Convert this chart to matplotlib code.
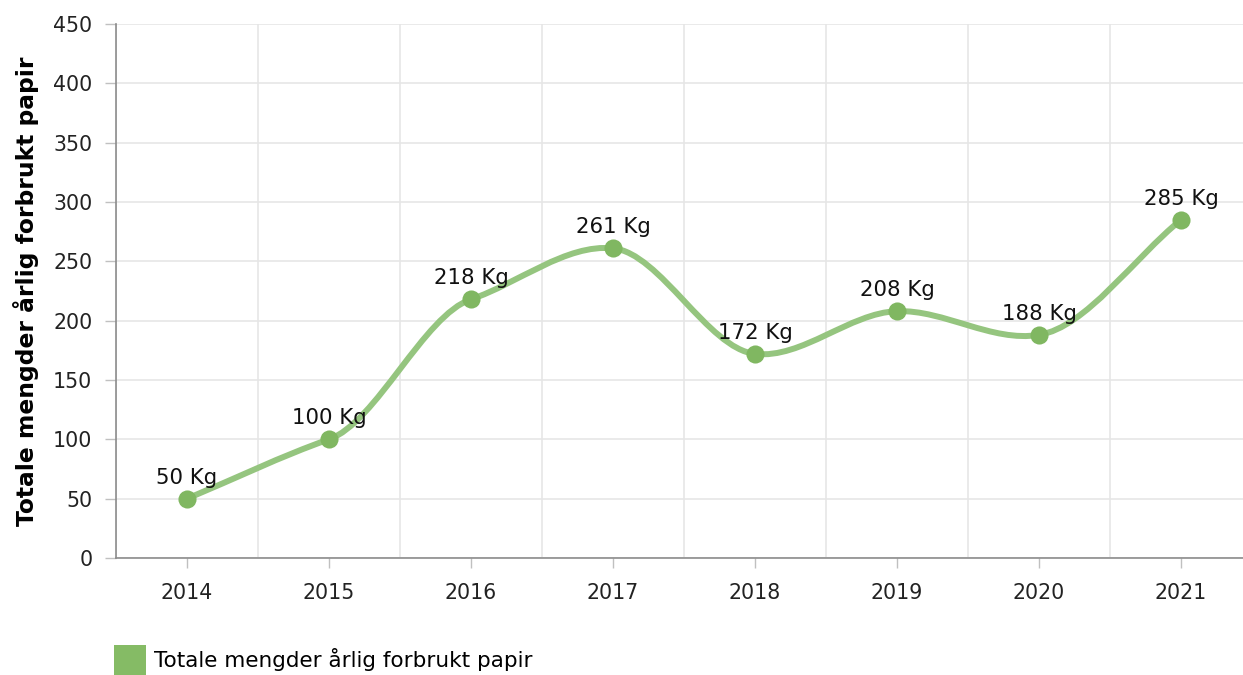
import numpy as np
import matplotlib.pyplot as plt
from matplotlib.path import Path
from matplotlib.patches import PathPatch, Patch

# data
years = ["2014", "2015", "2016", "2017", "2018", "2019", "2020", "2021"]
paper_kg = [50, 100, 218, 261, 172, 208, 188, 285]
series_name = "Totale mengder årlig forbrukt papir"
y_label = "Totale mengder årlig forbrukt papir"

line_col = "#95c57f"
dot_col = "#80b761"

plt.rcParams['font.family'] = ['DejaVu Sans']


def smooth_path(xs, ys, k=0.25):
    # cardinal-style cubic through the points, secant slope at the ends
    xs = np.asarray(xs, float)
    ys = np.asarray(ys, float)
    n = len(xs)
    m = np.zeros(n)
    m[0] = (ys[1] - ys[0]) / (xs[1] - xs[0])
    m[-1] = (ys[-1] - ys[-2]) / (xs[-1] - xs[-2])
    for i in range(1, n - 1):
        m[i] = k * (ys[i + 1] - ys[i - 1]) / (xs[i + 1] - xs[i - 1]) * 2
    verts = [(xs[0], ys[0])]
    codes = [Path.MOVETO]
    for i in range(n - 1):
        h = xs[i + 1] - xs[i]
        verts += [(xs[i] + h / 3, ys[i] + m[i] * h / 3),
                  (xs[i + 1] - h / 3, ys[i + 1] - m[i + 1] * h / 3),
                  (xs[i + 1], ys[i + 1])]
        codes += [Path.CURVE4] * 3
    return Path(verts, codes)


fig = plt.figure(figsize=(12.43, 6.75), dpi=100)
ax = fig.add_axes([116 / 1243, 1 - 558 / 675, (1252 - 116) / 1243, (558 - 24) / 675])

x = np.arange(len(years))
ax.set_xlim(-0.5, len(years) - 0.5)
ax.set_ylim(0, 450)
ax.set_yticks(np.arange(0, 451, 50))
ax.set_xticks(x)
ax.set_xticklabels(years)
ax.set_xticks(np.arange(-0.5, len(years), 1), minor=True)

ax.grid(axis='y', color='#e6e6e6', linewidth=1.2)
ax.grid(axis='x', which='minor', color='#e6e6e6', linewidth=1.2)
ax.set_axisbelow(True)
for s in ['top', 'right']:
    ax.spines[s].set_visible(False)
for s in ['left', 'bottom']:
    ax.spines[s].set_color('#8c8c8c')
    ax.spines[s].set_linewidth(1.2)

ax.tick_params(axis='x', which='major', length=7, width=1, color='#c0c0c0',
               pad=11, labelsize=14.8, labelcolor='#222222')
ax.tick_params(axis='x', which='minor', length=0)
ax.tick_params(axis='y', length=8, width=1, color='#c0c0c0', pad=9,
               labelsize=14.8, labelcolor='#222222')

ax.set_ylabel(y_label, fontsize=16.8, fontweight='bold', labelpad=10)

path = smooth_path(x, paper_kg)
ax.add_patch(PathPatch(path, facecolor='none', edgecolor=line_col, lw=4.3,
                       capstyle='round', joinstyle='round', zorder=3))
ax.scatter(x, paper_kg, s=170, color=dot_col, zorder=4, linewidths=0)

for xi, v in zip(x, paper_kg):
    ax.annotate(f"{v} Kg", (xi, v), xytext=(0, 8), textcoords='offset points',
                ha='center', va='bottom', fontsize=15.3, color='#111111', zorder=5)

handle = Patch(facecolor='#85bb65', edgecolor='none')
fig.legend([handle], [series_name], loc='lower left',
           bbox_to_anchor=(114 / 1243, 0), frameon=False,
           fontsize=15.5, handlelength=1.49, handleheight=1.77,
           handletextpad=0.37, borderpad=0, borderaxespad=0)

fig.savefig("out.png", dpi=100)
